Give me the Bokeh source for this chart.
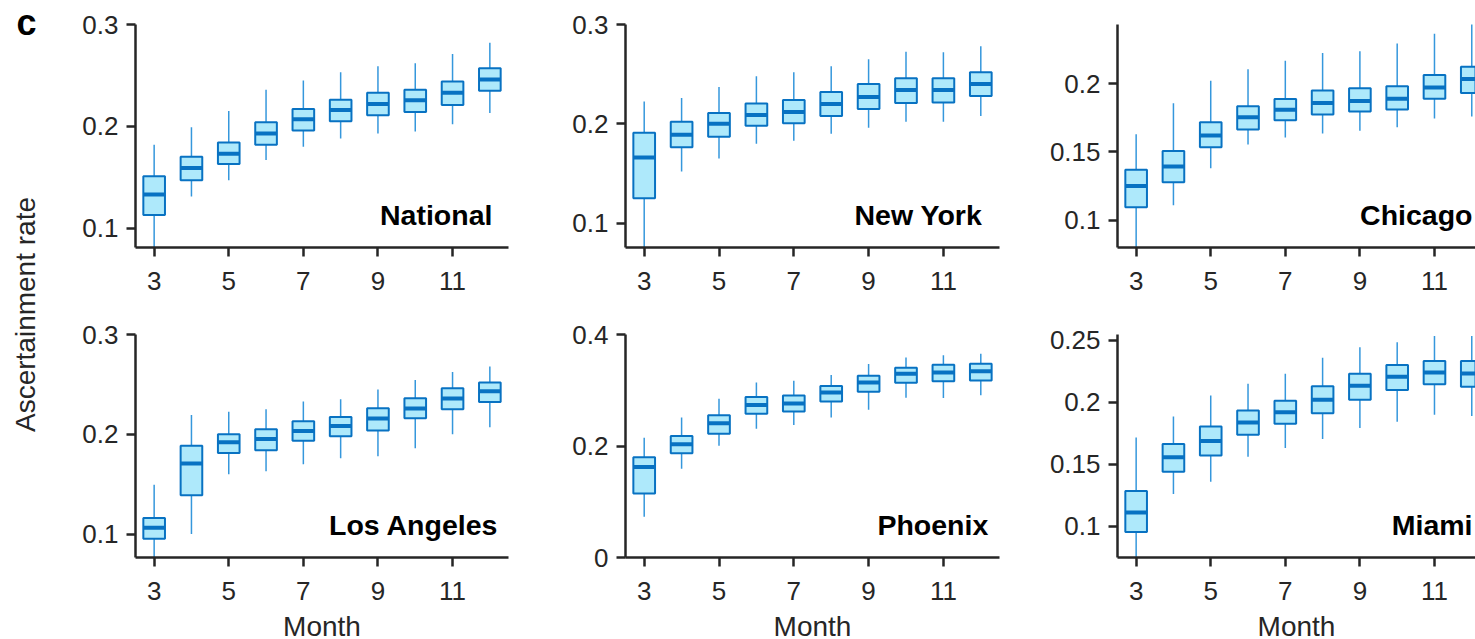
import math
from bokeh.plotting import figure
from bokeh.models import ColumnDataSource, Label, FixedTicker, Range1d
from bokeh.layouts import row, column
from bokeh.embed import file_html
from bokeh.resources import INLINE

# months on the x axis
months = [3, 4, 5, 6, 7, 8, 9, 10, 11, 12]
month_ticks = [3, 5, 7, 9, 11]

# box stats per city: whisker low, q1, median, q3, whisker high
national_lo = [0.075, 0.131, 0.147, 0.167, 0.180, 0.188, 0.193, 0.195, 0.202, 0.213]
national_q1 = [0.113, 0.147, 0.163, 0.182, 0.196, 0.205, 0.211, 0.214, 0.221, 0.235]
national_med = [0.133, 0.159, 0.173, 0.193, 0.207, 0.216, 0.222, 0.2255, 0.233, 0.246]
national_q3 = [0.151, 0.170, 0.184, 0.204, 0.217, 0.226, 0.233, 0.236, 0.244, 0.257]
national_hi = [0.182, 0.199, 0.215, 0.236, 0.245, 0.253, 0.259, 0.262, 0.271, 0.282]

newyork_lo = [0.070, 0.152, 0.165, 0.180, 0.183, 0.190, 0.196, 0.202, 0.202, 0.208]
newyork_q1 = [0.125, 0.1765, 0.187, 0.198, 0.2007, 0.208, 0.215, 0.221, 0.2215, 0.228]
newyork_med = [0.166, 0.189, 0.200, 0.209, 0.212, 0.220, 0.227, 0.234, 0.234, 0.240]
newyork_q3 = [0.191, 0.202, 0.211, 0.2205, 0.224, 0.232, 0.240, 0.246, 0.246, 0.252]
newyork_hi = [0.2225, 0.226, 0.237, 0.248, 0.252, 0.258, 0.265, 0.2725, 0.272, 0.278]

chicago_lo = [0.075, 0.111, 0.138, 0.1555, 0.1606, 0.1635, 0.1655, 0.168, 0.1745, 0.176]
chicago_q1 = [0.1095, 0.1277, 0.1535, 0.1664, 0.1732, 0.1774, 0.1796, 0.181, 0.189, 0.1932]
chicago_med = [0.125, 0.1394, 0.162, 0.1754, 0.1808, 0.1859, 0.1873, 0.189, 0.1971, 0.2034]
chicago_q3 = [0.137, 0.1506, 0.1718, 0.1835, 0.1888, 0.1949, 0.1966, 0.198, 0.2063, 0.2124]
chicago_hi = [0.163, 0.1856, 0.2022, 0.2105, 0.2168, 0.2224, 0.2238, 0.2294, 0.2365, 0.246]

losangeles_lo = [0.070, 0.100, 0.160, 0.163, 0.170, 0.176, 0.178, 0.186, 0.200, 0.207]
losangeles_q1 = [0.0953, 0.139, 0.1813, 0.184, 0.1936, 0.198, 0.2037, 0.216, 0.225, 0.2324]
losangeles_med = [0.1064, 0.1706, 0.192, 0.1953, 0.2033, 0.2084, 0.2157, 0.2258, 0.2358, 0.2431]
losangeles_q3 = [0.116, 0.1886, 0.200, 0.205, 0.213, 0.2174, 0.226, 0.2361, 0.2462, 0.252]
losangeles_hi = [0.1495, 0.2194, 0.2227, 0.225, 0.2328, 0.235, 0.245, 0.2545, 0.2625, 0.2679]

phoenix_lo = [0.073, 0.1594, 0.2006, 0.231, 0.2376, 0.251, 0.265, 0.2866, 0.286, 0.291]
phoenix_q1 = [0.1146, 0.1869, 0.222, 0.258, 0.262, 0.280, 0.2973, 0.3134, 0.316, 0.3176]
phoenix_med = [0.1624, 0.203, 0.2406, 0.2734, 0.2764, 0.2961, 0.314, 0.3296, 0.332, 0.3343]
phoenix_q3 = [0.1797, 0.218, 0.255, 0.2878, 0.2907, 0.3075, 0.326, 0.3403, 0.3457, 0.3475]
phoenix_hi = [0.215, 0.2513, 0.2848, 0.314, 0.317, 0.3272, 0.347, 0.3588, 0.363, 0.3654]

miami_lo = [0.070, 0.1261, 0.136, 0.156, 0.1632, 0.1704, 0.1792, 0.1843, 0.1899, 0.1888]
miami_q1 = [0.0955, 0.144, 0.1571, 0.1739, 0.1827, 0.1912, 0.2019, 0.2099, 0.2144, 0.2125]
miami_med = [0.1112, 0.1557, 0.1688, 0.1837, 0.192, 0.2019, 0.2133, 0.2205, 0.224, 0.2232]
miami_q3 = [0.1285, 0.1664, 0.1805, 0.1933, 0.2011, 0.2128, 0.2229, 0.2299, 0.2331, 0.2331]
miami_hi = [0.1715, 0.1885, 0.2053, 0.2149, 0.2229, 0.2357, 0.2443, 0.2483, 0.2533, 0.2533]

# y tick values per panel
national_yticks = [0.1, 0.2, 0.3]
newyork_yticks = [0.1, 0.2, 0.3]
chicago_yticks = [0.1, 0.15, 0.2]
losangeles_yticks = [0.1, 0.2, 0.3]
phoenix_yticks = [0, 0.2, 0.4]
miami_yticks = [0.1, 0.15, 0.2, 0.25]

FONT = "Liberation Sans"
FILL = "#aee9fb"
EDGE = "#0872c2"
WHISK = "#3597dc"
INK = "#262626"


def make_panel(name, lo, q1, med, q3, hi, yr, yticks, label_x,
               fw, x_end, left, right, top, bottom, xlabel):
    src = ColumnDataSource(dict(month=months, lo=lo, q1=q1, med=med, q3=q3, hi=hi))
    p = figure(frame_width=fw, frame_height=223,
               x_range=Range1d(2.5, x_end), y_range=Range1d(*yr),
               min_border_left=left, min_border_right=right,
               min_border_top=top, min_border_bottom=bottom,
               output_backend="svg", toolbar_location=None, tools="")
    p.outline_line_color = None
    p.grid.visible = False

    p.segment(x0="month", y0="q3", x1="month", y1="hi", source=src,
              line_color=WHISK, line_width=1.5)
    p.segment(x0="month", y0="lo", x1="month", y1="q1", source=src,
              line_color=WHISK, line_width=1.5)
    p.vbar(x="month", width=0.58, top="q3", bottom="q1", source=src,
           fill_color=FILL, line_color=EDGE, line_width=2)
    p.rect(x="month", y="med", width=0.58, height=4, height_units="screen",
           source=src, fill_color=EDGE, line_color=None)

    p.xaxis.ticker = FixedTicker(ticks=month_ticks)
    p.yaxis.ticker = FixedTicker(ticks=yticks)
    p.yaxis.major_label_overrides = {t: f"{t:g}" for t in yticks}
    for ax in (p.xaxis, p.yaxis):
        ax.axis_line_color = INK
        ax.axis_line_width = 2.5
        ax.major_tick_line_color = INK
        ax.major_tick_line_width = 2.5
        ax.major_tick_in = 0
        ax.major_tick_out = 9
        ax.minor_tick_line_color = None
        ax.major_label_text_font = FONT
        ax.major_label_text_font_size = "26px"
        ax.major_label_text_color = INK
    p.xaxis.major_label_standoff = 15
    p.yaxis.major_label_standoff = 8
    if xlabel:
        p.xaxis.axis_label = "Month"
        p.xaxis.axis_label_text_font = FONT
        p.xaxis.axis_label_text_font_size = "28px"
        p.xaxis.axis_label_text_font_style = "normal"
        p.xaxis.axis_label_text_color = INK
        p.xaxis.axis_label_standoff = 8

    p.add_layout(Label(x=label_x, y=33, x_units="data", y_units="screen",
                       text=name, text_align="right", text_baseline="alphabetic",
                       text_font=FONT, text_font_style="bold",
                       text_font_size="28.5px", text_color="black"))
    return p


p1 = make_panel("National", national_lo, national_q1, national_med, national_q3, national_hi,
                (0.081, 0.3), national_yticks, 12.07, 373, 12.5, 67, 32, 24, 53, False)
p2 = make_panel("New York", newyork_lo, newyork_q1, newyork_med, newyork_q3, newyork_hi,
                (0.0755, 0.3), newyork_yticks, 12.04, 374, 12.5, 85, 31, 24, 53, False)
p3 = make_panel("Chicago", chicago_lo, chicago_q1, chicago_med, chicago_q3, chicago_hi,
                (0.080, 0.2433), chicago_yticks, 12.02, 358, 12.1, 87, 0, 24, 53, False)
p4 = make_panel("Los Angeles", losangeles_lo, losangeles_q1, losangeles_med, losangeles_q3,
                losangeles_hi, (0.0765, 0.3), losangeles_yticks, 12.23, 373, 12.5, 67, 32, 34, 82, True)
p5 = make_panel("Phoenix", phoenix_lo, phoenix_q1, phoenix_med, phoenix_q3, phoenix_hi,
                (0.0, 0.4), phoenix_yticks, 12.2, 374, 12.5, 85, 31, 34, 82, True)
p6 = make_panel("Miami", miami_lo, miami_q1, miami_med, miami_q3, miami_hi,
                (0.075, 0.2545), miami_yticks, 12.02, 358, 12.1, 87, 0, 34, 82, True)

# narrow strip on the left for the panel letter and the shared y label
side = figure(width=68, height=639, x_range=(0, 1), y_range=(0, 1),
              min_border=0, output_backend="svg", toolbar_location=None, tools="")
side.outline_line_color = None
side.axis.visible = False
side.grid.visible = False
side.add_layout(Label(x=16, y=617, x_units="screen", y_units="screen", text="c",
                      text_font=FONT, text_font_style="bold", text_font_size="36px",
                      text_baseline="alphabetic", text_color="black"))
side.add_layout(Label(x=25, y=325, x_units="screen", y_units="screen",
                      text="Ascertainment rate", angle=math.pi / 2,
                      text_align="center", text_baseline="middle",
                      text_font=FONT, text_font_size="28px", text_color=INK))

layout = row(side, column(row(p1, p2, p3), row(p4, p5, p6)))

open("out.html", "w").write(file_html(layout, INLINE))
